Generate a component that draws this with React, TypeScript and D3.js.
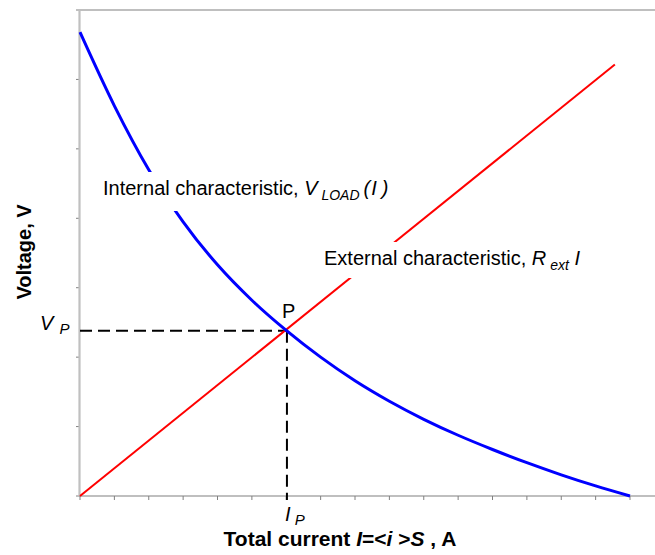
import React from "react";
import * as d3 from "d3";

const blueI = [0, 1, 2, 3, 4, 5, 6, 7, 8, 9, 10, 11, 12, 13, 14, 15, 16];
const blueV = [6.68, 5.62, 4.7, 3.95, 3.33, 2.82, 2.385, 2.0, 1.66, 1.365, 1.105, 0.875, 0.67, 0.48, 0.305, 0.145, 0];
const redI = [0, 15.56];
const redV = [0, 6.215];
const xTicks = d3.range(0, 17);
const yTicks = d3.range(0, 8);
const IP = 6.02;
const VP = 2.38;

const W = 655;
const H = 555;
const FONT = "'Liberation Sans', Arial, sans-serif";

export default function App() {
  const x = d3.scaleLinear().domain([0, 16]).range([80, 630]);
  const y = d3.scaleLinear().domain([0, 7]).range([496, 10]);
  const line = d3
    .line<[number, number]>()
    .x((d) => x(d[0]))
    .y((d) => y(d[1]))
    .curve(d3.curveMonotoneX);
  const blue = blueI.map((v, i) => [v, blueV[i]] as [number, number]);
  const red = redI.map((v, i) => [v, redV[i]] as [number, number]);
  const x0 = x(0);
  const y0 = y(0);
  const yTop = y(7);

  return (
    <div style={{ position: "absolute", left: 0, top: 0 }}>
      <svg width={W} height={H} style={{ display: "block", fontFamily: FONT }}>
        <rect x={0} y={0} width={W} height={H} fill="#fff" />
        {/* top border */}
        <line x1={x0} x2={W} y1={yTop} y2={yTop} stroke="#808080" strokeWidth={1.2} />
        {/* y ticks */}
        {yTicks.map((t) => (
          <line key={"yt" + t} x1={x0 - 4} x2={x0} y1={y(t)} y2={y(t)} stroke="#808080" strokeWidth={1} />
        ))}
        {/* x ticks */}
        {xTicks.map((t) => (
          <line key={"xt" + t} x1={x(t)} x2={x(t)} y1={y0} y2={y0 + 4} stroke="#808080" strokeWidth={1} />
        ))}
        {/* x axis */}
        <line x1={x0} x2={W} y1={y0} y2={y0} stroke="#808080" strokeWidth={1.2} />
        {/* y axis */}
        <line x1={x0 - 0.5} x2={x0 - 0.5} y1={yTop} y2={y0} stroke="#c0c0c0" strokeWidth={2.2} />

        {/* dashed guide lines */}
        <line x1={x0} x2={x(IP)} y1={y(VP)} y2={y(VP)} stroke="#000" strokeWidth={2} strokeDasharray="12,6" />
        <line x1={x(IP)} x2={x(IP)} y1={y(VP)} y2={y0 + 4} stroke="#000" strokeWidth={2} strokeDasharray="12,6" />

        {/* curves */}
        <path d={line(red) || ""} fill="none" stroke="#ff0000" strokeWidth={2} />
        <path d={line(blue) || ""} fill="none" stroke="#0000ff" strokeWidth={3} />

        {/* label boxes */}
        <rect x={98} y={172} width={308} height={39} fill="#fff" />
        <rect x={318} y={242} width={280} height={36} fill="#fff" />

        <text x={103} y={195} fontSize={20} fill="#000">
          Internal characteristic,{" "}
          <tspan fontStyle="italic">V</tspan>
          <tspan fontStyle="italic" fontSize={14} dy={5}> LOAD</tspan>
          <tspan fontStyle="italic" dy={-5} dx={4}>(</tspan>
          <tspan fontStyle="italic" dx={1}>I</tspan>
          <tspan fontStyle="italic" dx={5}>)</tspan>
        </text>
        <text x={324} y={265} fontSize={20} fill="#000">
          External characteristic,{" "}
          <tspan fontStyle="italic">R</tspan>
          <tspan fontStyle="italic" fontSize={14} dy={5}> ext</tspan>
          <tspan fontStyle="italic" dy={-5}> I</tspan>
        </text>

        <text x={x(IP) - 5} y={y(VP) - 13} fontSize={20} fill="#000">P</text>

        <text x={40} y={330} fontSize={20} fill="#000">
          <tspan fontStyle="italic">V</tspan>
          <tspan fontStyle="italic" fontSize={15} dy={4} dx={2}> P</tspan>
        </text>
        <text x={x(IP) - 2} y={521} fontSize={20} fill="#000">
          <tspan fontStyle="italic">I</tspan>
          <tspan fontStyle="italic" fontSize={15} dy={4}> P</tspan>
        </text>

        <text x={340} y={546} fontSize={21} fontWeight="bold" textAnchor="middle" fill="#000">
          Total current <tspan fontStyle="italic">I</tspan>=&lt;<tspan fontStyle="italic">i</tspan> &gt;
          <tspan fontStyle="italic">S</tspan> , A
        </text>
        <text
          transform="translate(31,252) rotate(-90)"
          fontSize={20}
          fontWeight="bold"
          textAnchor="middle"
          fill="#000"
        >
          Voltage, V
        </text>
      </svg>
    </div>
  );
}
